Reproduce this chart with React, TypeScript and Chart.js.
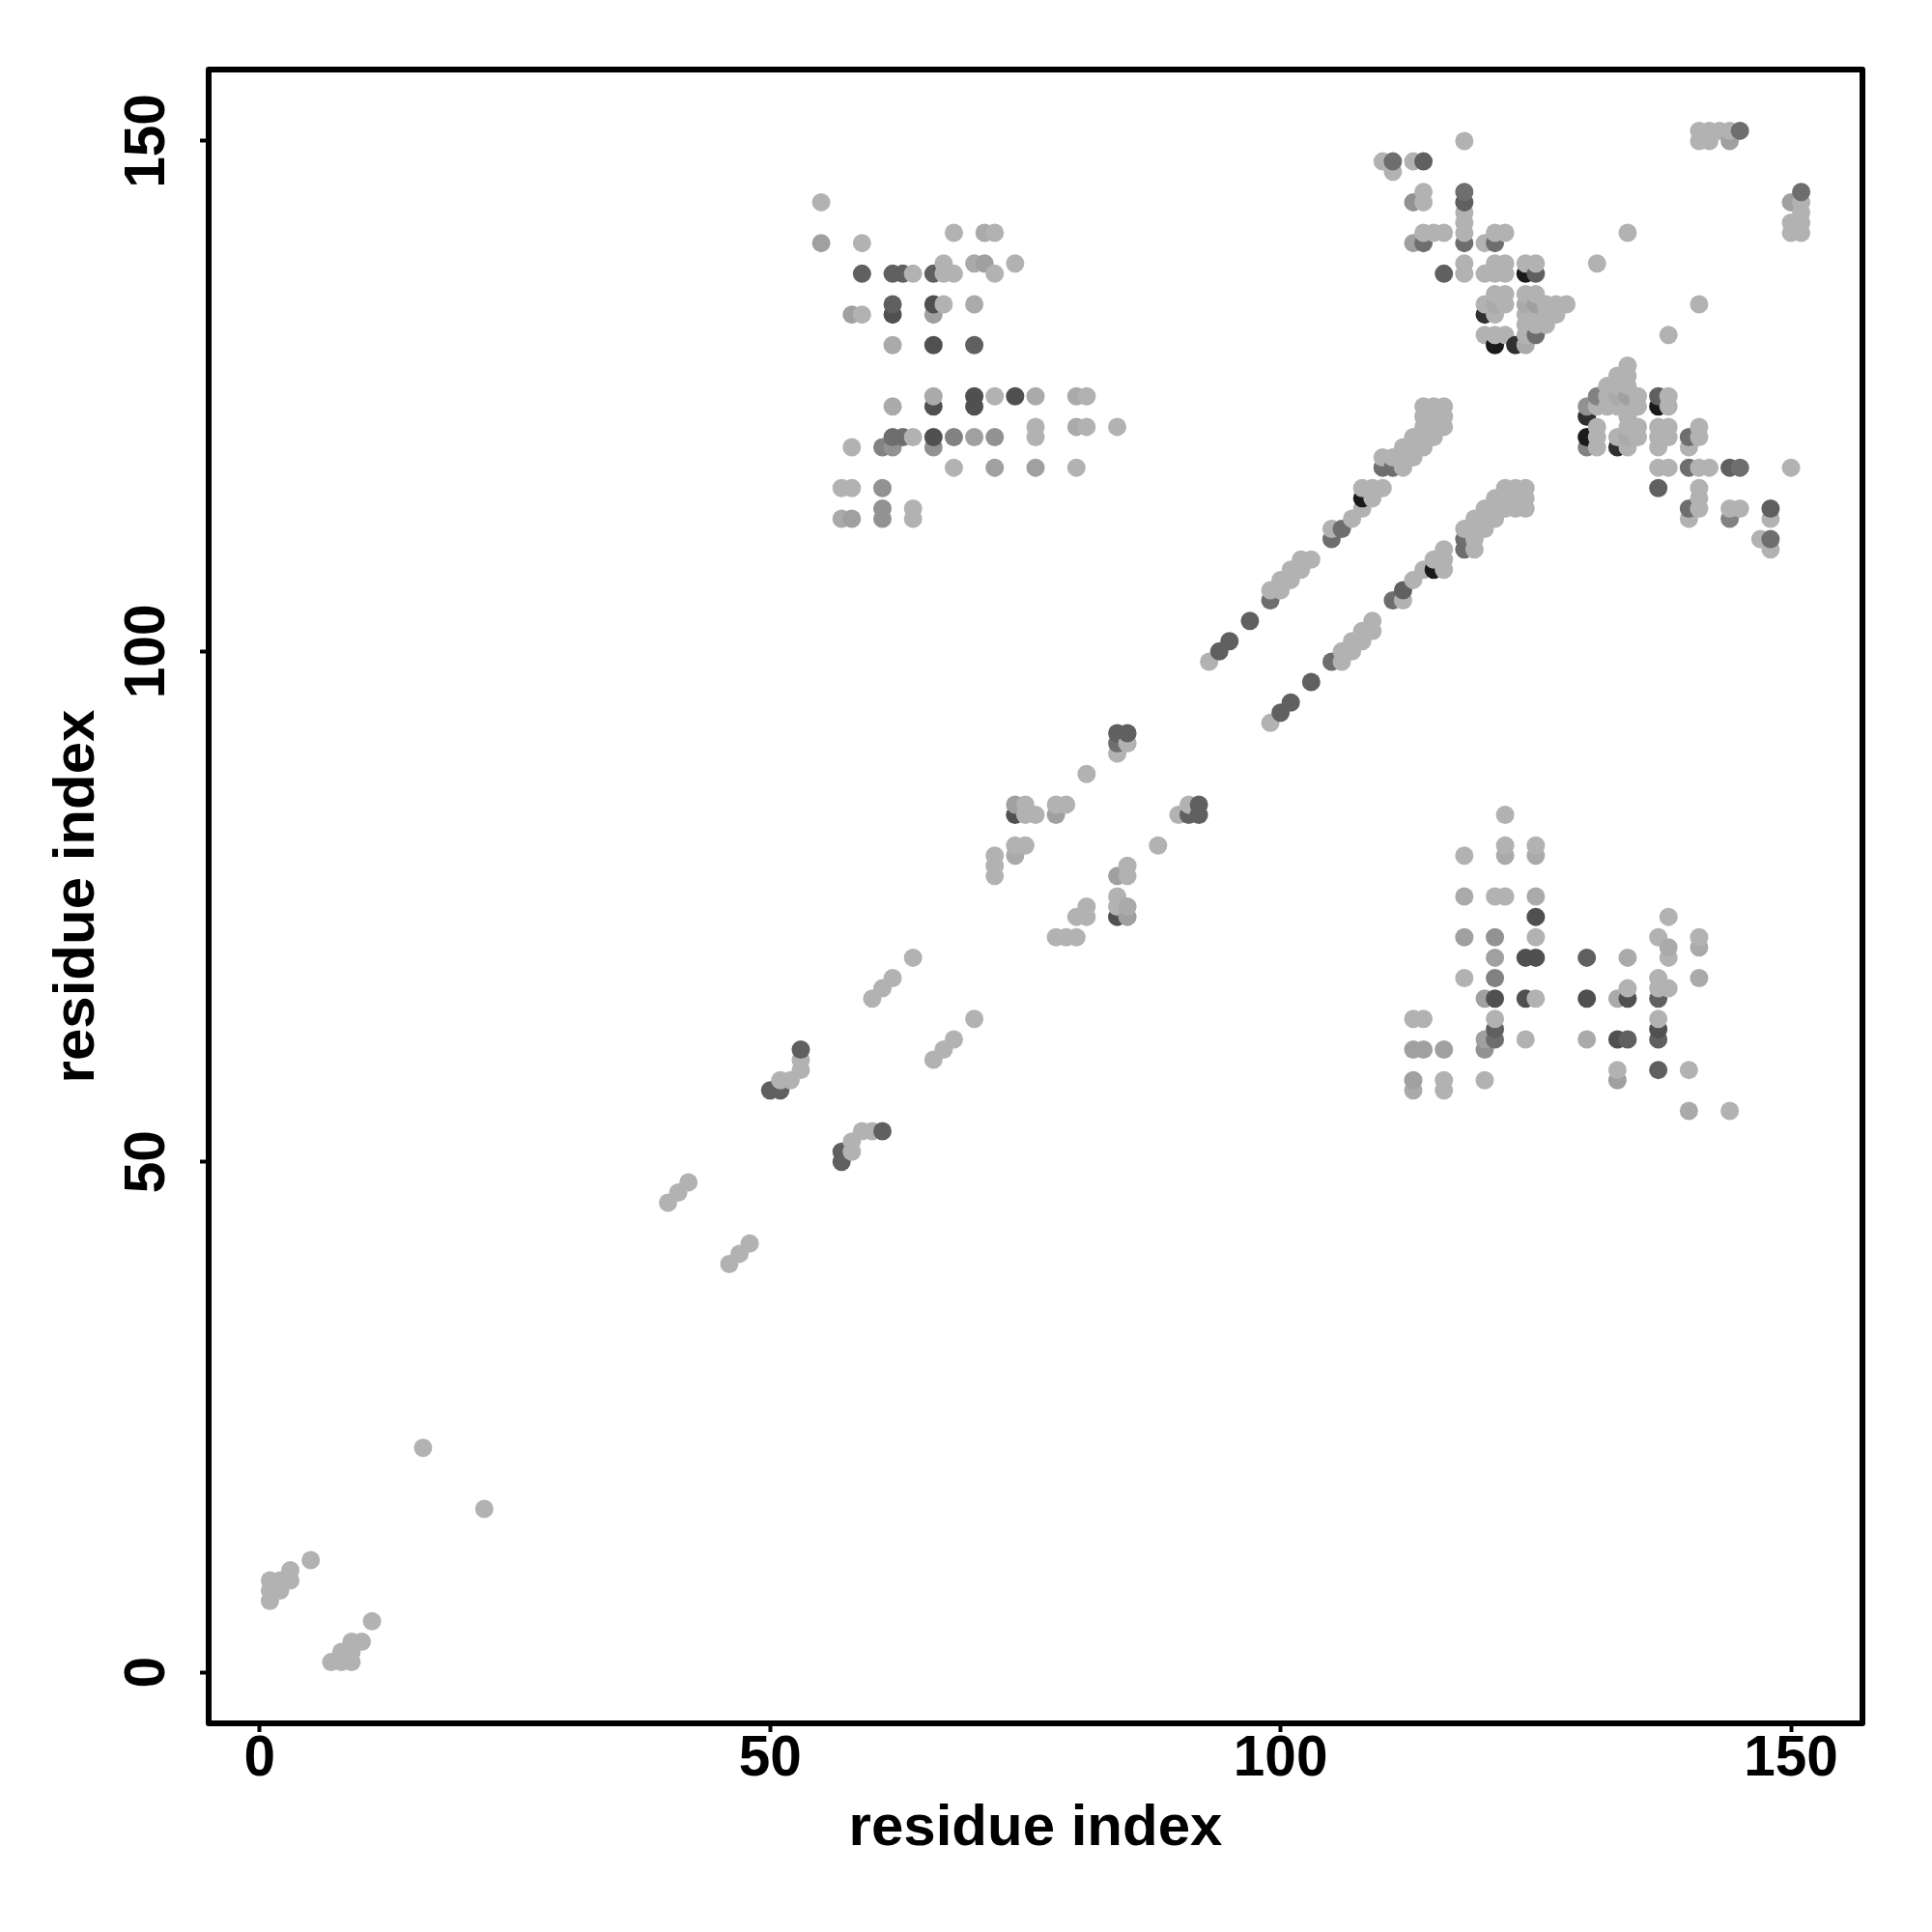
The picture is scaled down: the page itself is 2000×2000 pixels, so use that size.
import { useEffect, useRef } from "react";
import { Chart, registerables } from "chart.js";

Chart.register(...registerables);

type Pair = [number, number];

const axisTitle = "residue index";
const xTicks = [0, 50, 100, 150];
const yTicks = [0, 50, 100, 150];
const xLimits = [-5, 157];
const yLimits = [-5, 157];

const shade26: Pair[] = [[124,137],[121,130],[130,121],[137,124],[108,115],[115,108]];
const shade48: Pair[] = [[120,133],[123,130],[130,123],[133,120]];
const shade80: Pair[] = [[62,133],[66,134],[66,130],[70,125],[74,125],[66,124],[70,124],[66,121],[125,74],[124,70],[125,70],[121,66],[124,66],[130,66],[134,66],[133,62],[137,63],[74,84],[84,74]];
const shade96: Pair[] = [[59,137],[62,137],[63,137],[66,137],[62,134],[70,130],[114,148],[118,144],[116,137],[125,137],[94,100],[95,101],[97,103],[100,94],[101,95],[103,97],[112,106],[130,70],[137,66],[121,63],[134,62],[137,62],[137,59],[137,125],[144,118],[148,114],[137,116],[53,61],[51,57],[50,57],[61,53],[57,51],[57,50],[84,92],[85,92],[91,84],[92,85],[92,84]];
const shade110: Pair[] = [[111,148],[118,145],[118,140],[114,140],[121,140],[145,151],[151,145],[125,131],[62,121],[63,121],[99,105],[105,111],[106,112],[110,118],[111,118],[105,99],[111,105],[118,110],[118,111],[121,62],[140,121],[140,118],[145,118],[140,114],[148,111],[84,91]];
const shade130: Pair[] = [[68,121],[61,120],[144,113],[121,68],[130,120],[131,125]];
const shade146: Pair[] = [[72,121],[62,120],[66,120],[61,116],[61,114],[61,113],[121,72],[120,61],[113,144],[130,124]];
const shade160: Pair[] = [[58,133],[66,133],[70,121],[72,118],[76,118],[58,113],[55,140],[71,138],[144,150],[150,144],[118,72],[121,70],[120,66],[113,61],[114,61],[116,61],[113,58],[120,62],[133,58],[113,140],[78,84],[84,78],[85,74],[74,85],[125,134],[134,125]];
const shade170: Pair[] = [[66,125],[76,125],[80,125],[62,124],[80,122],[70,134],[70,138],[71,141],[57,113],[62,130],[122,80],[125,80],[118,76],[125,76],[130,62],[134,70],[133,66],[138,71],[141,71],[141,68],[113,57],[140,55],[85,75],[74,80],[124,130],[121,134],[124,134],[133,125],[134,121]];

const lightTopRight: Pair[] = [[118,150],[110,148],[111,147],[113,148],[114,145],[114,144],[118,143],[118,142],[118,141],[114,141],[115,141],[116,141],[120,140],[121,141],[122,141],[118,138],[121,138],[122,138],[118,137],[120,137],[121,137],[122,137],[124,138],[125,138],[121,135],[122,135],[124,135],[125,135],[120,134],[122,134],[126,134],[127,134],[128,134],[121,133],[124,133],[125,133],[126,133],[127,133],[124,132],[125,132],[126,132],[120,131],[121,131],[122,131],[124,131],[131,138],[134,141],[141,134],[138,131],[141,151],[141,150],[142,151],[142,150],[143,151],[144,151],[151,144],[151,143],[150,142],[151,142],[150,141],[151,141]];
const lightTopLeft: Pair[] = [[55,144],[59,140],[68,141],[72,141],[64,137],[67,138],[67,137],[68,137],[72,137],[74,138],[59,133],[67,134],[72,125],[81,125],[76,122],[81,122],[84,122],[64,121],[76,121],[58,120],[68,118],[80,118],[57,116],[58,116],[64,114],[64,113]];
const lightMiddleRight: Pair[] = [[134,128],[133,127],[134,127],[132,126],[133,126],[134,126],[132,125],[135,125],[135,124],[131,124],[132,124],[133,124],[134,124],[131,122],[131,121],[131,120],[133,121],[134,120],[134,122],[135,122],[135,121],[134,123],[138,125],[138,124],[137,122],[138,122],[137,121],[138,121],[137,120],[140,120],[141,122],[141,121],[137,118],[138,118],[141,118],[142,118],[150,118],[141,116],[141,115],[141,114],[140,113],[144,114],[145,114],[148,113],[147,111],[148,110]];
const lightUpperBand: Pair[] = [[93,99],[99,106],[100,106],[100,107],[101,107],[101,108],[102,108],[102,109],[103,109],[105,112],[107,113],[108,114],[108,116],[109,115],[109,116],[110,116],[110,119],[111,119],[112,118],[112,119],[112,120],[113,119],[113,120],[113,121],[114,120],[114,121],[114,122],[114,123],[114,124],[115,121],[115,122],[115,123],[115,124],[116,122],[116,123],[116,124]];
const lightLowerBand: Pair[] = [[99,93],[106,99],[106,100],[107,100],[107,101],[108,101],[108,102],[109,102],[109,103],[112,105],[113,107],[114,108],[115,109],[116,108],[116,109],[116,110],[118,112],[119,110],[119,111],[119,112],[119,113],[120,112],[120,113],[120,114],[121,113],[121,114],[121,115],[122,114],[122,115],[122,116],[123,114],[123,115],[123,116],[124,114],[124,115],[124,116]];
const lightBottomRight: Pair[] = [[122,84],[122,81],[125,81],[118,80],[121,76],[122,76],[125,72],[118,68],[125,66],[134,67],[137,68],[137,67],[138,67],[138,74],[137,72],[138,70],[141,72],[113,64],[114,64],[116,58],[116,57],[120,58],[121,64],[124,62],[137,64],[133,59],[140,59],[144,55]];
const lightMiddle: Pair[] = [[85,91],[84,90],[81,88],[75,85],[75,84],[76,84],[78,85],[79,85],[74,81],[75,81],[72,80],[72,79],[72,78],[90,84],[91,85],[88,81],[85,79],[85,78],[84,76],[84,75],[80,74],[81,75],[81,74],[78,72],[79,72],[80,72],[64,70],[62,68],[61,67],[60,66],[70,64],[68,62],[67,61],[66,60],[53,60],[53,59],[52,58],[51,58],[60,53],[59,53],[58,52],[58,51],[42,48],[41,47],[40,46],[48,42],[47,41],[46,40]];
const lightBottomLeft: Pair[] = [[16,22],[22,16],[5,11],[3,10],[3,9],[2,9],[1,9],[2,8],[1,8],[1,7],[11,5],[10,3],[9,3],[8,2],[9,2],[7,1],[8,1],[9,1]];

const shadeGroups: [number, Pair[]][] = [
  [26, shade26], [48, shade48], [80, shade80], [96, shade96], [110, shade110],
  [130, shade130], [146, shade146], [160, shade160], [170, shade170],
  [178, lightTopRight], [178, lightTopLeft], [178, lightMiddleRight], [178, lightUpperBand],
  [178, lightLowerBand], [178, lightBottomRight], [178, lightMiddle], [178, lightBottomLeft],
];

const contacts = shadeGroups
  .flatMap(([grey, pts]) => pts.map(([x, y]) => ({ x, y, grey })))
  .sort((a, b) => a.x - b.x || a.y - b.y);

const framePlugin = {
  id: "frame",
  afterDraw(chart: any) {
    const { ctx, chartArea: a } = chart;
    ctx.save();
    ctx.strokeStyle = "#000";
    ctx.lineWidth = 6;
    ctx.lineJoin = "round";
    ctx.strokeRect(a.left, a.top, a.right - a.left, a.bottom - a.top);
    ctx.restore();
  },
};

export default function App() {
  const ref = useRef<HTMLCanvasElement>(null);
  useEffect(() => {
    if (!ref.current) return;
    const tickFont = { family: "'Liberation Sans'", weight: "bold" as const, size: 58.5 };
    const titleFont = { family: "'Liberation Sans'", weight: "bold" as const, size: 60 };
    const chart = new Chart(ref.current, {
      type: "scatter",
      data: {
        datasets: [
          {
            data: contacts.map(({ x, y }) => ({ x, y })),
            backgroundColor: contacts.map((c) => `rgb(${c.grey},${c.grey},${c.grey})`),
            pointRadius: 9.5,
            pointBorderWidth: 0,
            pointHoverRadius: 9.5,
          },
        ],
      },
      options: {
        responsive: false,
        animation: false,
        devicePixelRatio: 1,
        layout: { padding: { top: 72, right: 72, left: 0, bottom: 0 } },
        plugins: { legend: { display: false }, tooltip: { enabled: false } },
        scales: {
          x: {
            type: "linear",
            min: xLimits[0],
            max: xLimits[1],
            afterFit: (s: any) => { s.height = 216; },
            afterBuildTicks: (s: any) => { s.ticks = xTicks.map((value) => ({ value })); },
            grid: { drawOnChartArea: false, drawTicks: true, tickLength: 9, tickWidth: 4, tickColor: "#000" },
            border: { display: false },
            ticks: { color: "#000", font: tickFont, padding: -6, maxRotation: 0, autoSkip: false },
            title: { display: true, text: axisTitle, color: "#000", font: titleFont, padding: { top: 0, bottom: 71 } },
          },
          y: {
            type: "linear",
            min: yLimits[0],
            max: yLimits[1],
            afterFit: (s: any) => { s.width = 216; },
            afterBuildTicks: (s: any) => { s.ticks = yTicks.map((value) => ({ value })); },
            grid: { drawOnChartArea: false, drawTicks: true, tickLength: 9, tickWidth: 4, tickColor: "#000" },
            border: { display: false },
            ticks: { color: "#000", font: tickFont, padding: 4, minRotation: 90, maxRotation: 90, crossAlign: "center", autoSkip: false },
            title: { display: true, text: axisTitle, color: "#000", font: titleFont, padding: { top: 44, bottom: 0 } },
          },
        },
      } as any,
      plugins: [framePlugin],
    });
    return () => chart.destroy();
  }, []);
  return (
    <canvas
      ref={ref}
      width={2000}
      height={2000}
      style={{ position: "absolute", left: 0, top: 0, display: "block", width: 2000, height: 2000 }}
    />
  );
}
